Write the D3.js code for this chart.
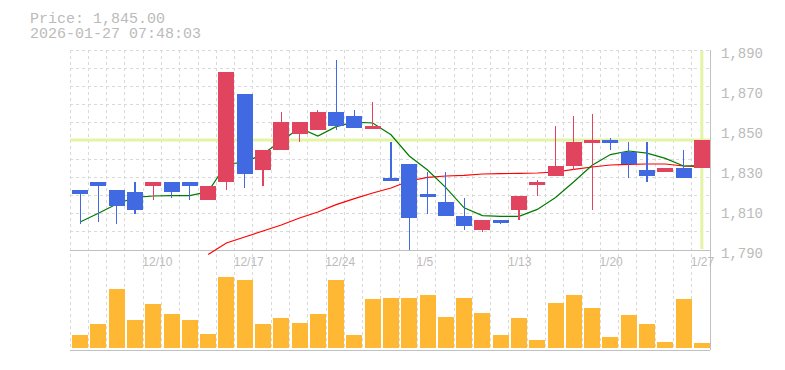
<!DOCTYPE html>
<html>
<head>
<meta charset="utf-8">
<script src="https://cdn.jsdelivr.net/npm/d3@7"></script>
<style>
  html, body { margin: 0; padding: 0; background: #ffffff; }
  svg { display: block; }
</style>
</head>
<body>
<svg id="chart" width="785" height="370"></svg>
<script>
// ---------------- data ----------------
const dates = ["12/4","12/5","12/8","12/9","12/10","12/11","12/12","12/15","12/16","12/17",
  "12/18","12/19","12/22","12/23","12/24","12/25","12/26","12/29","12/30","1/5",
  "1/6","1/7","1/8","1/9","1/13","1/14","1/15","1/16","1/19","1/20",
  "1/21","1/22","1/23","1/26","1/27"];
const openP  = [1820,1824,1820,1819,1822,1824,1824,1815,1824,1868,1830,1840,1848,1850,1859,1857,1851,1826,1833,1818,1814,1807,1800,1805,1810,1823,1827,1832,1844,1845,1839,1830,1829,1831,1831];
const highP  = [1820,1824,1820,1824,1824,1824,1824,1822,1879,1868,1840,1859,1854,1860,1885,1860,1864,1844,1833,1829,1829,1816,1805,1805,1817,1825,1852,1857,1858,1846,1844,1844,1831,1840,1845];
const lowP   = [1803,1804,1803,1808,1815,1816,1815,1815,1820,1821,1822,1840,1844,1850,1850,1851,1851,1825,1790,1808,1807,1800,1799,1803,1805,1817,1827,1830,1810,1840,1826,1824,1829,1826,1831];
const closeP = [1818,1822,1812,1810,1824,1819,1822,1822,1879,1828,1840,1854,1854,1859,1852,1851,1852,1825,1806,1817,1807,1802,1805,1804,1817,1824,1832,1844,1845,1844,1833,1827,1831,1826,1845];
const volume = [13,24,59,28,44,34,28,14,71,68,24,30,25,34,68,13,49,50,50,53,31,50,35,13,30,8,45,53,40,11,33,24,6,49,5];
const ma5  = [1804,1808.4,1813,1816.3,1817,1817.2,1817.2,1819.2,1833,1833.8,1838,1844.5,1851,1847,1851.7,1853.9,1853.5,1847.6,1837,1830,1821.2,1811.1,1807.2,1806.8,1806.8,1810.3,1816.3,1824.1,1832.4,1837.7,1839.5,1838.4,1835.8,1832,1832.2];
const ma25 = [null,null,null,null,null,null,null,1787.8,1793.5,1796.5,1799.5,1802.5,1806,1809,1812.7,1815.7,1818.5,1821,1824.5,1826.3,1827,1827.3,1828,1828.2,1828.3,1828.5,1829,1830.3,1831.5,1832.5,1832.8,1833,1833,1832,1831.7];
const priceTicks = [1790,1810,1830,1850,1870,1890];
const dateTickLabels = ["12/10","12/17","12/24","1/5","1/13","1/20","1/27"];
const currentPrice = 1845.00;
const titleLines = ["Price: 1,845.00", "2026-01-27 07:48:03"];

// ---------------- layout ----------------
const plotLeft = 70, plotRight = 710, plotTop = 50, priceBottom = 250, volBottom = 350;
const svg = d3.select("#chart");

const idx = d3.range(dates.length);
const x = d3.scaleBand().domain(idx).range([plotLeft, plotRight]).paddingInner(0.125).paddingOuter(0.0625);
const bw = x.bandwidth();
const bx = i => x(i) + 1;
const cx = i => bx(i) + bw / 2;

const y = d3.scaleLinear().domain([1790, 1890]).range([priceBottom, plotTop]);
const yv = d3.scaleLinear().domain([0, 98]).range([volBottom - 2, priceBottom]);

const gridColor = "#d9d9d9";
const axisColor = "#c0c0c0";
const textColor = "#bbbbbb";

// ---------------- title ----------------
svg.selectAll("text.title").data(titleLines).join("text")
  .attr("class", "title")
  .attr("x", 30)
  .attr("y", (d, i) => 22.5 + i * 15.5)
  .attr("font-family", "'Liberation Mono', 'DejaVu Sans Mono', monospace")
  .attr("font-size", 15)
  .attr("fill", textColor)
  .text(d => d);

// ---------------- grid ----------------
const grid = svg.append("g").attr("shape-rendering", "crispEdges");
const step = x.step();
grid.selectAll("line.v").data(d3.range(0, dates.length)).join("line")
  .attr("class", "v")
  .attr("x1", i => plotLeft + i * step).attr("x2", i => plotLeft + i * step)
  .attr("y1", plotTop).attr("y2", volBottom)
  .attr("stroke", gridColor).attr("stroke-dasharray", "3,3");
const hN = 11;
grid.selectAll("line.h").data(d3.range(0, hN)).join("line")
  .attr("class", "h")
  .attr("x1", plotLeft).attr("x2", plotRight)
  .attr("y1", k => plotTop + k * (priceBottom - plotTop) / hN)
  .attr("y2", k => plotTop + k * (priceBottom - plotTop) / hN)
  .attr("stroke", gridColor).attr("stroke-dasharray", "3,3");

grid.append("line").attr("x1", plotLeft).attr("x2", plotRight).attr("y1", priceBottom).attr("y2", priceBottom).attr("stroke", axisColor);
grid.append("line").attr("x1", plotLeft).attr("x2", plotRight).attr("y1", volBottom).attr("y2", volBottom).attr("stroke", axisColor);
grid.append("line").attr("x1", plotRight).attr("x2", plotRight).attr("y1", plotTop).attr("y2", volBottom).attr("stroke", axisColor);

// ---------------- current price guides ----------------
const guideColor = "#e4f4a6";
svg.append("line")
  .attr("x1", plotLeft).attr("x2", plotRight)
  .attr("y1", y(currentPrice)).attr("y2", y(currentPrice))
  .attr("stroke", guideColor).attr("stroke-width", 3);
svg.append("line")
  .attr("x1", cx(dates.length - 1)).attr("x2", cx(dates.length - 1))
  .attr("y1", plotTop + 1).attr("y2", priceBottom - 1)
  .attr("stroke", guideColor).attr("stroke-width", 3);

// ---------------- volume ----------------
svg.append("g").attr("shape-rendering", "crispEdges")
  .selectAll("rect").data(idx).join("rect")
  .attr("x", bx).attr("width", bw)
  .attr("y", i => yv(volume[i]))
  .attr("height", i => yv(0) - yv(volume[i]))
  .attr("fill", "#ffb833");

// ---------------- moving averages ----------------
const line = arr => d3.line()
  .defined(i => arr[i] != null)
  .x(i => cx(i))
  .y(i => y(arr[i]))(idx);
svg.append("path").attr("d", line(ma25)).attr("fill", "none").attr("stroke", "#ff0000").attr("stroke-width", 1.2);
svg.append("path").attr("d", line(ma5)).attr("fill", "none").attr("stroke", "#007a00").attr("stroke-width", 1.2);

// ---------------- candles ----------------
const upColor = "#e0445f", downColor = "#4169e1";
const cg = svg.append("g").attr("shape-rendering", "crispEdges");
const candle = cg.selectAll("g").data(idx).join("g");
candle.append("line")
  .attr("x1", i => cx(i)).attr("x2", i => cx(i))
  .attr("y1", i => y(highP[i])).attr("y2", i => y(lowP[i]))
  .attr("stroke", i => closeP[i] >= openP[i] ? upColor : downColor)
  .attr("stroke-width", 1.2);
candle.append("rect")
  .attr("x", bx).attr("width", bw)
  .attr("y", i => y(Math.max(openP[i], closeP[i])))
  .attr("height", i => Math.max(2.5, Math.abs(y(openP[i]) - y(closeP[i]))))
  .attr("fill", i => closeP[i] >= openP[i] ? upColor : downColor);

// ---------------- axes text ----------------
const yAxis = d3.axisRight(y).tickValues(priceTicks).tickSize(0).tickPadding(11)
  .tickFormat(d3.format(","));
const ya = svg.append("g").attr("transform", `translate(${plotRight},0)`).call(yAxis);
ya.select(".domain").remove();
ya.selectAll("text")
  .attr("dy", "0.52em")
  .attr("font-family", "'Liberation Mono', 'DejaVu Sans Mono', monospace")
  .attr("font-size", 14)
  .attr("fill", textColor);

svg.selectAll("text.date").data(idx.filter(i => dateTickLabels.includes(dates[i]))).join("text")
  .attr("class", "date")
  .attr("x", i => cx(i) - 11)
  .attr("y", 266)
  .attr("font-family", "'Liberation Sans', Arial, sans-serif")
  .attr("font-size", 12)
  .attr("fill", textColor)
  .text(i => dates[i]);
</script>
</body>
</html>
